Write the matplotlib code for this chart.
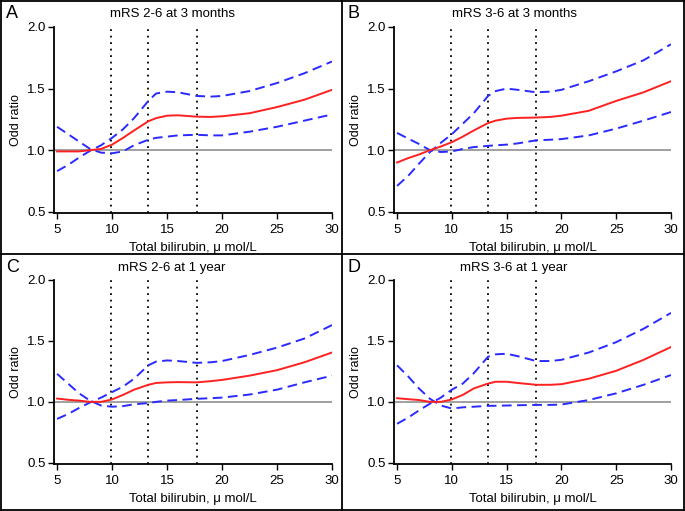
import matplotlib
matplotlib.use("Agg")
import matplotlib.pyplot as plt
from matplotlib.lines import Line2D

plt.rcParams['font.family'] = ['Liberation Sans', 'DejaVu Sans']

# common x grid (total bilirubin, umol/L)
x = [5, 6, 7, 8, 9, 10, 11, 12, 13.3, 14, 15, 16, 17.7, 19, 20, 22.5, 25, 27.5, 30]

# A: mRS 2-6 at 3 months
or_a = [0.99, 0.99, 0.99, 1.0, 1.01, 1.045, 1.10, 1.16, 1.235, 1.26, 1.28, 1.283, 1.272, 1.27, 1.275, 1.30, 1.35, 1.41, 1.49]
ci1_a = [1.19, 1.13, 1.07, 1.01, 0.98, 0.975, 0.99, 1.04, 1.085, 1.10, 1.11, 1.12, 1.125, 1.12, 1.12, 1.15, 1.19, 1.24, 1.29]
ci2_a = [0.83, 0.88, 0.94, 0.995, 1.04, 1.10, 1.17, 1.26, 1.40, 1.46, 1.475, 1.47, 1.44, 1.435, 1.44, 1.48, 1.545, 1.625, 1.72]

# B: mRS 3-6 at 3 months
or_b = [0.90, 0.935, 0.965, 1.0, 1.03, 1.065, 1.11, 1.16, 1.22, 1.24, 1.256, 1.262, 1.265, 1.27, 1.28, 1.32, 1.40, 1.47, 1.56]
ci1_b = [1.14, 1.095, 1.05, 1.0, 0.985, 0.99, 1.01, 1.025, 1.035, 1.04, 1.045, 1.055, 1.08, 1.085, 1.09, 1.12, 1.175, 1.24, 1.31]
ci2_b = [0.71, 0.79, 0.89, 0.985, 1.06, 1.13, 1.215, 1.30, 1.44, 1.48, 1.50, 1.49, 1.47, 1.475, 1.49, 1.56, 1.64, 1.73, 1.86]

# C: mRS 2-6 at 1 year
or_c = [1.027, 1.017, 1.01, 1.0, 1.0, 1.02, 1.057, 1.10, 1.14, 1.155, 1.16, 1.162, 1.16, 1.17, 1.18, 1.215, 1.26, 1.325, 1.405]
ci1_c = [1.23, 1.15, 1.07, 1.01, 0.97, 0.96, 0.965, 0.98, 0.99, 1.0, 1.01, 1.015, 1.025, 1.03, 1.035, 1.06, 1.10, 1.16, 1.215]
ci2_c = [0.86, 0.90, 0.95, 0.995, 1.035, 1.08, 1.125, 1.19, 1.30, 1.33, 1.34, 1.335, 1.32, 1.325, 1.335, 1.385, 1.445, 1.52, 1.63]

# D: mRS 3-6 at 1 year
or_d = [1.03, 1.022, 1.015, 1.0, 1.0, 1.02, 1.057, 1.11, 1.15, 1.165, 1.165, 1.155, 1.14, 1.14, 1.145, 1.19, 1.255, 1.345, 1.45]
ci1_d = [1.30, 1.21, 1.11, 1.025, 0.97, 0.945, 0.955, 0.96, 0.967, 0.968, 0.97, 0.972, 0.975, 0.975, 0.978, 1.015, 1.07, 1.14, 1.22]
ci2_d = [0.82, 0.87, 0.93, 0.985, 1.035, 1.10, 1.15, 1.235, 1.37, 1.39, 1.395, 1.375, 1.335, 1.335, 1.345, 1.405, 1.49, 1.60, 1.73]

knots = [9.9, 13.3, 17.7]
letters = ['A', 'B', 'C', 'D']
titles = ['mRS 2-6 at 3 months', 'mRS 3-6 at 3 months', 'mRS 2-6 at 1 year', 'mRS 3-6 at 1 year']
series = [(or_a, ci1_a, ci2_a), (or_b, ci1_b, ci2_b), (or_c, ci1_c, ci2_c), (or_d, ci1_d, ci2_d)]

W, H = 685, 511
fig = plt.figure(figsize=(W / 100, H / 100), dpi=100)

# axes boxes in pixels: left, top, right, bottom
boxes = [(54, 27, 332, 213), (394, 27, 671, 213), (54, 280, 332, 464), (394, 280, 671, 464)]
panel_x = [0, 342, 0, 342]
panel_y = [0, 0, 254, 254]

for i in range(4):
    l, t, r, b = boxes[i]
    ax = fig.add_axes([l / W, 1 - b / H, (r - l) / W, (b - t) / H])
    y_or, c1, c2 = series[i]
    ax.axhline(1.0, color='#999999', lw=1.3, zorder=1)
    for k in knots:
        ax.axvline(k, color='black', lw=1.3, ls=(0, (1, 2.6)), zorder=1)
    ax.plot(x, c1, color='#2a2aff', lw=1.4, ls=(0, (5, 2.8)), zorder=2)
    ax.plot(x, c2, color='#2a2aff', lw=1.4, ls=(0, (5, 2.8)), zorder=2)
    ax.plot(x, y_or, color='#ff2020', lw=1.4, zorder=3)
    ax.set_xlim(4.72, 30)
    ax.set_ylim(0.49, 2.0)
    ax.set_xticks([5, 10, 15, 20, 25, 30])
    ax.set_yticks([0.5, 1.0, 1.5, 2.0])
    ax.set_yticklabels(['0.5', '1.0', '1.5', '2.0'])
    ax.spines['top'].set_visible(False)
    ax.spines['right'].set_visible(False)
    ax.spines['left'].set_linewidth(1.3)
    ax.spines['bottom'].set_linewidth(1.3)
    ax.tick_params(labelsize=9.5, length=4, width=1.0)
    ax.tick_params(axis='x', pad=4)
    ax.tick_params(axis='y', pad=2)
    ax.set_xlabel('Total bilirubin, μ mol/L', fontsize=9.5, labelpad=4)
    ax.set_ylabel('Odd ratio', fontsize=9, labelpad=4)
    ax.patch.set_alpha(0)
    # panel letter and title
    px, py = panel_x[i], panel_y[i]
    fig.text((px + 6) / W, 1 - (py + 14) / H, letters[i], fontsize=13, va='center', ha='left')
    fig.text((px + 172) / W, 1 - (py + 14) / H, titles[i], fontsize=9.5, va='center', ha='center')

# panel borders
border = dict(color='black', lw=1.3, transform=fig.transFigure)
for (x0, y0, x1, y1) in [(1, 1, 684, 1), (1, 510, 684, 510), (1, 1, 1, 510), (684, 1, 684, 510),
                         (342, 1, 342, 510), (1, 254, 684, 254)]:
    fig.add_artist(Line2D([x0 / W, x1 / W], [1 - y0 / H, 1 - y1 / H], **border))

fig.savefig('out.png', dpi=100)
